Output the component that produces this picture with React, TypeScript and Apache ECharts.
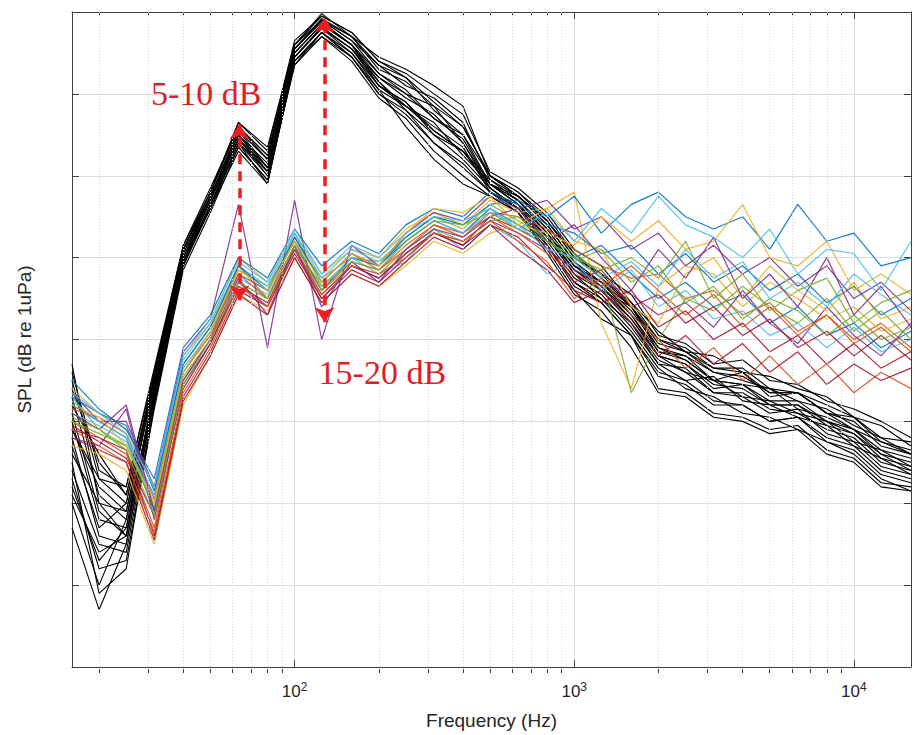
import React, { useEffect, useRef } from 'react';
import * as echarts from 'echarts';

// One-third octave band centre frequencies (Hz)
const FREQS = [16, 20, 25, 31.5, 40, 50, 63, 80, 100, 125, 160, 200, 250, 315, 400, 500, 630, 800, 1000, 1250, 1600, 2000, 2500, 3150, 4000, 5000, 6300, 8000, 10000, 12500, 16000];

// Black curves (SPL, dB)
const BLACK_1 = [75, 63, 60, 76, 91.5, 98, 106.5, 103.5, 116, 119.8, 117, 113.5, 112, 109, 106, 100, 98, 95, 90.5, 88, 85.5, 80.5, 79.5, 77, 77.5, 75, 74.5, 72.5, 71.5, 70, 68];
const BLACK_2 = [70, 58, 57, 74, 90, 97.5, 105.5, 101, 115, 118.5, 116, 112, 110, 108.5, 104, 99, 97, 93.5, 89, 87, 84, 79, 77.5, 75, 76, 73, 73.5, 71, 69, 67.5, 66];
const BLACK_3 = [64, 55, 54, 72, 89, 96.5, 104.5, 100, 114.5, 118, 115, 111, 109, 105, 103, 98.5, 96, 92, 87.5, 85.5, 81.5, 77, 75, 75.5, 72.5, 72, 70.5, 69.5, 67, 65.5, 63.5];
const BLACK_4 = [60, 50, 58, 73, 89.5, 97, 105, 101.5, 115.5, 119, 116.5, 112.5, 110.5, 107, 104.5, 99, 97.5, 94, 89.5, 86, 84, 78.5, 78, 75, 74.5, 74, 71.5, 70.5, 69, 66.5, 65.5];
const BLACK_5 = [72, 66, 61, 75, 91, 98, 106, 102, 116, 119.5, 117.5, 114, 112.5, 110, 107.5, 100.5, 98.5, 95.5, 91, 89, 84.5, 81, 78.5, 78, 76, 75.5, 74, 73, 70.5, 69.5, 67];
const BLACK_6 = [66, 60, 56, 73.5, 90, 96, 104, 99, 114, 117.5, 114.5, 110, 108, 104, 101, 98, 96.5, 91.5, 86.5, 84.5, 80.5, 75.5, 74.5, 72, 72, 70, 70.5, 68, 67, 64, 63];
const BLACK_7 = [57, 47, 55, 72.5, 89, 96.5, 103.5, 99.5, 113.5, 117, 114, 109.5, 107, 103, 100, 97.5, 95.5, 91, 86, 82.5, 80.5, 74, 73.5, 71, 70.5, 69, 69.5, 66.5, 65.5, 62.5, 62];
const BLACK_8 = [69, 62, 59, 74.5, 90.5, 97.5, 105, 100.5, 115, 118.5, 116, 111.5, 108.5, 106.5, 102.5, 99, 96.5, 93, 88.5, 86.5, 82.5, 78, 77, 74.5, 74, 72, 72, 69.5, 68.5, 65.5, 64.5];
const BLACK_9 = [76, 64, 62, 76.5, 91.5, 98.5, 106, 102.5, 116, 119, 117, 114.5, 113, 111, 108.5, 100, 98, 94.5, 90, 87.5, 84, 80, 79, 76.5, 76, 73.5, 73.5, 71, 70.5, 67.5, 66.5];
const BLACK_10 = [62, 53, 57, 73, 89.5, 96, 103, 99, 114, 117, 114.5, 110.5, 106, 102, 99, 97.5, 95.5, 90.5, 85.5, 83.5, 79, 73.5, 73, 70.5, 70, 68.5, 69, 66, 65, 62, 61.5];
const BLACK_11 = [71, 59, 56, 74, 90, 97, 104.5, 101, 114.5, 118, 115.5, 112, 109.5, 107.5, 104, 98.5, 96, 92.5, 88, 86, 82, 77.5, 76, 73.5, 73, 71, 71.5, 68.5, 67.5, 64.5, 63.5];
const BLACK_12 = [67, 57, 60, 75, 91, 97.5, 105.5, 102, 115.5, 118.8, 116, 111, 109, 105.5, 103, 99.5, 97, 93.5, 89, 87, 83, 78.5, 77.5, 75, 74.5, 72.5, 72.5, 70, 69, 66, 65];
const BLACK_13 = [63, 52, 53, 71.5, 88.5, 95.5, 103.5, 99.5, 113.5, 117.5, 114.5, 110, 107.5, 104, 101.5, 98, 95.5, 91.5, 87, 84.5, 80.5, 76, 75, 72.5, 72, 70, 70.5, 67.5, 66.5, 63.5, 62.5];
const BLACK_14 = [73, 61, 58, 75.5, 91, 98, 106, 102.5, 115.5, 119.2, 117, 113, 111.5, 108.5, 106, 100, 97.5, 94.5, 90, 88, 84, 79.5, 78.5, 76, 75.5, 73.5, 73.5, 71, 70, 67, 66];
const BLACK_15 = [68, 56, 55, 73, 89.5, 96.5, 104, 100.5, 114.5, 118, 115.5, 111.5, 108, 105, 102, 98.5, 96, 92.5, 88, 85, 82, 77, 76.5, 73.5, 73.5, 71.5, 71, 69, 68, 65, 64];
const BLACK_16 = [74, 65, 61, 75.5, 91, 97.5, 105.5, 102, 115.5, 119, 116.5, 113.5, 111, 109.5, 106.5, 99.5, 97.5, 94, 89.5, 87, 83.5, 79, 78, 76, 75, 74, 72.5, 71.5, 69.5, 68, 66];
const BLACK_17 = [65, 49, 52, 72, 89, 96, 104, 100, 114, 117.5, 115, 110.5, 108.5, 106, 103.5, 98, 96, 91.5, 87, 85, 81, 76.5, 74, 73, 71, 70.5, 69, 67.5, 66, 63, 61.5];
const BLACK_18 = [61, 54, 56, 73.5, 90, 97, 105, 101, 115, 118.5, 116, 112.5, 110, 107, 105, 99, 97, 93, 89, 86.5, 83, 78, 77, 74, 74.5, 72, 72, 70, 68.5, 66, 64];
const BLACK_19 = [77, 60, 59, 74.5, 90.5, 97, 104.5, 100.5, 114.5, 118.2, 115.5, 111, 108.5, 105.5, 103, 99, 96.5, 92.5, 88.5, 86, 82.5, 78, 76, 75, 73, 72.5, 71, 70, 67.5, 66.5, 64.5];
const BLACK_20 = [69, 63, 62, 76, 91, 98, 106.5, 103, 116.5, 119.5, 117.5, 114, 112, 108, 105, 100, 97.5, 94.5, 90.5, 87.5, 84.5, 80, 78.5, 76.5, 76.5, 74, 73.5, 72, 70.5, 68, 67.5];

// Coloured curves (SPL, dB)
const COLOR_1 = [72, 70, 68, 59, 76, 81, 88, 86, 92, 86, 90, 89, 92, 94.5, 93, 96, 94, 92, 90, 91.5, 88, 85, 87, 84, 85.5, 82, 84, 80.5, 82, 79, 81];
const COLOR_2 = [70, 68, 66, 57, 75, 80, 89, 85, 92.5, 87, 90.5, 88.5, 91, 94, 92.5, 95.5, 95, 93.5, 91, 89, 87.5, 88, 85, 86, 83, 84.5, 81, 83, 80, 82, 79];
const COLOR_3 = [74, 71, 69, 62, 78, 82, 90, 87, 93, 88, 91, 90, 93.5, 95.5, 94, 97, 95.5, 96, 98, 82, 74, 86.5, 89, 88, 84, 87, 85, 82.5, 84, 81, 82.5];
const COLOR_4 = [68, 67, 71.5, 58, 74.5, 79.5, 87, 84, 91, 85, 89, 87.5, 90.5, 93, 92, 94.5, 93, 91, 88.5, 87, 85.5, 83, 84.5, 81.5, 86, 82, 79.5, 84, 80.5, 78, 82];
const COLOR_5 = [73, 69, 67, 61, 77, 81.5, 88.5, 86.5, 92, 87.5, 90, 89.5, 92.5, 95, 93.5, 96.5, 94.5, 92.5, 90.5, 88, 73.5, 80, 85, 83.5, 86.5, 84, 82, 85, 81, 83.5, 80];
const COLOR_6 = [71, 69.5, 67.5, 60, 76.5, 81, 87.5, 85.5, 93, 86.5, 90, 88, 89.5, 93.5, 91, 94, 92, 88, 89.5, 86, 88.5, 84, 86, 82.5, 83.5, 80.5, 82, 79, 81.5, 78.5, 80];
const COLOR_7 = [69, 68, 66.5, 56, 73, 78.5, 86, 84, 90.5, 85, 88.5, 87, 90, 93, 91.5, 95, 93.5, 91.5, 87, 88.5, 84, 85.5, 82, 84, 80.5, 82.5, 79, 81, 78, 80.5, 77.5];
const COLOR_8 = [75, 71.5, 69, 63, 79, 83, 90, 87.5, 93.5, 89, 92, 90.5, 94, 96, 95, 98, 96.5, 94, 93, 90.5, 91.5, 88, 90.5, 87, 89, 86, 88, 84.5, 86.5, 83, 85];
const COLOR_9 = [71.5, 70.5, 68.5, 60.5, 76, 80.5, 88, 85, 91.5, 86, 89.5, 88.5, 91.5, 94, 93, 95, 93, 90.5, 88, 86.5, 89, 86, 83, 85.5, 81.5, 84, 80.5, 83, 79.5, 81.5, 78.5];
const COLOR_10 = [67, 66, 64, 55, 72, 78, 85.5, 83.5, 90, 84.5, 88, 86.5, 89, 92, 90.5, 93, 94, 96, 92, 91, 84, 82, 88, 90, 85, 89, 86, 83.5, 87, 82.5, 84];
const COLOR_11 = [73.5, 70, 70, 62, 78.5, 82.5, 96.5, 79, 97, 80, 91.5, 89, 93, 95.5, 94.5, 97.5, 96, 97, 93.5, 95, 91, 93, 89, 91.5, 88, 90, 86.5, 89, 85, 87, 83.5];
const COLOR_12 = [70, 68.5, 67, 59.5, 75.5, 80, 87, 85, 91, 86, 89, 88, 91, 93.5, 92, 94.5, 95, 92, 89.5, 91, 87, 89, 84.5, 86.5, 82.5, 85, 83.5, 80.5, 83, 80, 81.5];
const COLOR_13 = [72.5, 70, 68, 61, 77.5, 82, 89, 86.5, 93, 87.5, 91, 89.5, 92, 94.5, 93, 95.5, 94, 91, 90, 87.5, 89.5, 86.5, 91, 87.5, 89.5, 85, 87, 84, 88, 85.5, 83];
const COLOR_14 = [69.5, 67.5, 65.5, 58.5, 74, 79.5, 86.5, 84.5, 91, 85.5, 89, 87.5, 90.5, 93, 91.5, 94, 92.5, 89, 86, 84.5, 86, 81.5, 83.5, 80, 82, 78.5, 80.5, 77, 79.5, 76.5, 78.5];
const COLOR_15 = [73, 71, 69.5, 61.5, 77, 81.5, 89, 86, 92.5, 87, 90.5, 89, 92.5, 95, 94, 96.5, 97, 95, 97.5, 93, 96.5, 98, 95, 93.5, 95, 91, 96.5, 92, 93, 89, 90];
const COLOR_16 = [69, 67, 65, 56.5, 73.5, 79, 86.5, 84, 91, 85.5, 89, 88, 90, 93, 92, 94.5, 92, 89.5, 85, 87.5, 83, 80, 76.5, 79, 75, 78, 74.5, 77, 73.5, 76, 74];
const COLOR_17 = [72, 70.5, 67, 60, 76, 81, 88.5, 86, 92, 87, 90.5, 89, 93, 96, 95.5, 97.5, 94, 93, 91.5, 95, 92, 94.5, 91, 92, 96.5, 90, 89, 92, 86, 88, 85.5];
const COLOR_18 = [71, 69, 72, 59, 75, 80, 87.5, 83, 91.5, 84, 89.5, 87, 91, 93.5, 92.5, 95, 96, 92, 94, 90, 86, 91, 87.5, 92.5, 85, 88, 84, 90, 83, 86.5, 81.5];
const COLOR_19 = [70.5, 69, 66.5, 58.5, 74.5, 80, 87, 85, 91.5, 86.5, 89.5, 88.5, 92, 94.5, 94, 95.5, 93.5, 92, 90, 88.5, 90, 87.5, 92, 85, 88, 83.5, 86, 87.5, 82, 84.5, 86];
const COLOR_20 = [73.5, 71, 68.5, 62, 78, 82.5, 89.5, 87, 93.5, 88, 91.5, 90, 93, 95, 94.5, 96, 93.5, 95.5, 92, 96, 93, 97.5, 94, 92.5, 90, 93.5, 88, 91, 90.5, 86, 92];
const COLOR_21 = [68, 66.5, 65, 55.5, 72.5, 78, 85.5, 83, 90, 84.5, 88, 86.5, 89.5, 92.5, 91, 94, 91, 88.5, 84.5, 86, 82, 78, 80.5, 77, 79.5, 76, 78.5, 74.5, 77, 75, 76.5];

const BLACK_LINES = [BLACK_1, BLACK_2, BLACK_3, BLACK_4, BLACK_5, BLACK_6, BLACK_7, BLACK_8, BLACK_9, BLACK_10, BLACK_11, BLACK_12, BLACK_13, BLACK_14, BLACK_15, BLACK_16, BLACK_17, BLACK_18, BLACK_19, BLACK_20];
const COLOR_LINES = [COLOR_1, COLOR_2, COLOR_3, COLOR_4, COLOR_5, COLOR_6, COLOR_7, COLOR_8, COLOR_9, COLOR_10, COLOR_11, COLOR_12, COLOR_13, COLOR_14, COLOR_15, COLOR_16, COLOR_17, COLOR_18, COLOR_19, COLOR_20, COLOR_21];
const LINE_COLORS = ['#0072BD', '#D95319', '#EDB120', '#7E2F8E', '#77AC30', '#4DBEEE', '#A2142F'];

const MAJOR_TICKS = [100, 1000, 10000];
const MINOR_TICKS = [20, 30, 40, 50, 60, 70, 80, 90, 200, 300, 400, 500, 600, 700, 800, 900, 2000, 3000, 4000, 5000, 6000, 7000, 8000, 9000];

// Annotation arrows: frequency, low end (dB), high end (dB)
const ARROW_FREQS = [63.5, 128];
const ARROW_LOW = [84.8, 82.1];
const ARROW_HIGH = [106.3, 119.3];
// Annotation notes
const NOTE_TEXTS = ['5-10 dB', '15-20 dB'];
const NOTE_FREQS = [48.3, 206];
const NOTE_DB = [110, 76];

const X_MIN = 16;
const X_MAX = 16000;
const Y_MIN = 40;
const Y_MAX = 120;

export default function App() {
  const ref = useRef<HTMLDivElement>(null);
  useEffect(() => {
    const chart = echarts.init(ref.current as HTMLDivElement, null, { renderer: 'svg' });
    const series: any[] = [];

    series.push({
      type: 'line',
      xAxisIndex: 0,
      yAxisIndex: 0,
      data: [],
      silent: true,
      z: 0,
      markLine: {
        silent: true,
        symbol: 'none',
        label: { show: false },
        lineStyle: { color: '#d6d6d6', width: 1, type: [1, 2] },
        data: MINOR_TICKS.map((f) => ({ xAxis: f })),
        animation: false,
      },
    });

    BLACK_LINES.forEach((arr, i) => {
      series.push({
        type: 'line',
        name: 'black' + i,
        xAxisIndex: 0,
        yAxisIndex: 0,
        data: FREQS.map((f, j) => [f, arr[j]]),
        symbol: 'none',
        showSymbol: false,
        silent: true,
        lineStyle: { color: '#000000', width: 1.1 },
        z: 2,
      });
    });
    COLOR_LINES.forEach((arr, i) => {
      series.push({
        type: 'line',
        name: 'col' + i,
        xAxisIndex: 0,
        yAxisIndex: 0,
        data: FREQS.map((f, j) => [f, arr[j]]),
        symbol: 'none',
        showSymbol: false,
        silent: true,
        lineStyle: { color: LINE_COLORS[i % LINE_COLORS.length], width: 1.2, opacity: 0.9 },
        z: 3,
      });
    });

    series.push({
      type: 'line',
      xAxisIndex: 0,
      yAxisIndex: 0,
      data: [],
      silent: true,
      z: 10,
      markLine: {
        silent: true,
        symbol: ['arrow', 'arrow'],
        symbolSize: [15, 15],
        label: { show: false },
        lineStyle: { color: '#EE1C1C', width: 3.5, type: [10, 7], opacity: 1 },
        data: ARROW_FREQS.map((f, i) => [
          { coord: [f, ARROW_LOW[i]] },
          { coord: [f, ARROW_HIGH[i]] },
        ]),
        animation: false,
      },
      markPoint: {
        silent: true,
        symbol: 'circle',
        symbolSize: 1,
        itemStyle: { color: 'rgba(0,0,0,0)' },
        label: {
          show: true,
          position: 'inside',
          color: '#DC1E28',
          fontFamily: 'Liberation Serif',
          fontSize: 34,
          formatter: (p: any) => p.name,
        },
        data: NOTE_TEXTS.map((t, i) => ({ name: t, coord: [NOTE_FREQS[i], NOTE_DB[i]] })),
        animation: false,
      },
    });

    const gridRect = { left: 72, right: 4, top: 12, bottom: 62 };
    const axisLineStyle = { color: '#404040', width: 1 };

    chart.setOption({
      animation: false,
      backgroundColor: '#ffffff',
      grid: [
        { ...gridRect, containLabel: false },
        { ...gridRect, containLabel: false },
      ],
      xAxis: [
        {
          type: 'log',
          gridIndex: 0,
          position: 'bottom',
          min: X_MIN,
          max: X_MAX,
          logBase: 10,
          name: 'Frequency (Hz)',
          nameLocation: 'middle',
          nameGap: 44,
          nameTextStyle: { fontFamily: 'Liberation Sans', fontSize: 19, color: '#262626' },
          axisLine: { show: true, lineStyle: axisLineStyle },
          axisTick: { show: true, inside: true, length: 7, customValues: MAJOR_TICKS, lineStyle: axisLineStyle },
          axisLabel: {
            show: true,
            customValues: MAJOR_TICKS,
            margin: 14,
            formatter: (v: number) => '{b|10}{s|' + Math.round(Math.log10(v)) + '}',
            rich: {
              b: { fontFamily: 'Liberation Sans', fontSize: 17, color: '#262626' },
              s: { fontFamily: 'Liberation Sans', fontSize: 12, color: '#262626', padding: [0, 0, 9, 0] },
            },
          },
          splitLine: { show: true, lineStyle: { color: '#dcdcdc', width: 1 } },
          minorTick: { show: false },
        },
        {
          type: 'log',
          gridIndex: 0,
          position: 'top',
          min: X_MIN,
          max: X_MAX,
          logBase: 10,
          axisLine: { show: true, lineStyle: axisLineStyle },
          axisTick: { show: true, inside: true, length: 7, customValues: MAJOR_TICKS, lineStyle: axisLineStyle },
          axisLabel: { show: false },
          splitLine: { show: false },
        },
        {
          type: 'log',
          gridIndex: 1,
          position: 'bottom',
          min: X_MIN,
          max: X_MAX,
          logBase: 10,
          axisLine: { show: false },
          axisTick: { show: true, inside: true, length: 4, customValues: MINOR_TICKS, lineStyle: axisLineStyle },
          axisLabel: { show: false },
          splitLine: { show: false },
        },
        {
          type: 'log',
          gridIndex: 1,
          position: 'top',
          min: X_MIN,
          max: X_MAX,
          logBase: 10,
          axisLine: { show: false },
          axisTick: { show: true, inside: true, length: 4, customValues: MINOR_TICKS, lineStyle: axisLineStyle },
          axisLabel: { show: false },
          splitLine: { show: false },
        },
      ],
      yAxis: [
        {
          type: 'value',
          gridIndex: 0,
          position: 'left',
          min: Y_MIN,
          max: Y_MAX,
          interval: 10,
          name: 'SPL (dB re 1uPa)',
          nameLocation: 'middle',
          nameGap: 38,
          nameTextStyle: { fontFamily: 'Liberation Sans', fontSize: 19, color: '#262626' },
          axisLine: { show: true, lineStyle: axisLineStyle },
          axisTick: { show: true, inside: true, length: 7, lineStyle: axisLineStyle },
          axisLabel: { show: false },
          splitLine: { show: true, lineStyle: { color: '#dcdcdc', width: 1 } },
        },
        {
          type: 'value',
          gridIndex: 0,
          position: 'right',
          min: Y_MIN,
          max: Y_MAX,
          interval: 10,
          axisLine: { show: true, lineStyle: axisLineStyle },
          axisTick: { show: true, inside: true, length: 7, lineStyle: axisLineStyle },
          axisLabel: { show: false },
          splitLine: { show: false },
        },
        {
          type: 'value',
          gridIndex: 1,
          min: Y_MIN,
          max: Y_MAX,
          show: false,
        },
      ],
      series,
    });
    return () => chart.dispose();
  }, []);
  return (
    <div
      ref={ref}
      style={{ position: 'fixed', left: 0, top: 0, width: 915, height: 735, background: '#ffffff' }}
    />
  );
}
